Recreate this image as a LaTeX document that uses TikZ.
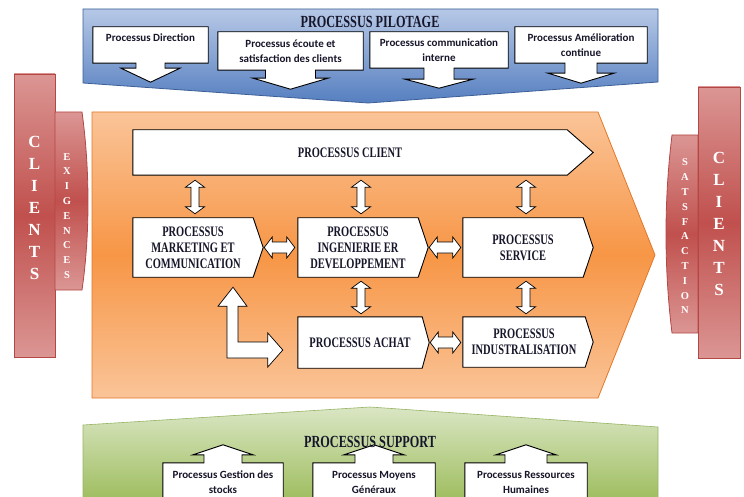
\documentclass[tikz,border=0pt]{standalone}
\usepackage{fontspec}
\setmainfont{Liberation Serif}
\newfontfamily\titfont[FakeStretch=0.72]{Liberation Serif}
\newfontfamily\smallfont{Carlito}
\usetikzlibrary{calc}
\pgfdeclarelayer{bgl}
\pgfdeclarelayer{midl}
\pgfsetlayers{bgl,midl,main}
\definecolor{txtc}{HTML}{16162A}
\definecolor{bluet}{RGB}{182,200,230}
\definecolor{blueb}{RGB}{86,127,192}
\definecolor{blued}{RGB}{60,95,150}
\definecolor{orat}{RGB}{250,196,152}
\definecolor{oram}{RGB}{247,150,70}
\definecolor{orab}{RGB}{250,196,152}
\definecolor{orad}{RGB}{226,120,40}
\definecolor{grt}{RGB}{218,230,196}
\definecolor{grb}{RGB}{155,187,89}
\definecolor{grd}{RGB}{150,180,100}
\definecolor{redt}{RGB}{219,150,148}
\definecolor{redm}{RGB}{192,80,77}
\definecolor{redd}{RGB}{180,70,68}
\tikzset{
  sertext/.style={font={\titfont\bfseries\fontsize{14.5}{16}\selectfont}, text=txtc, align=center, inner sep=0pt},
  bandtitle/.style={font={\titfont\bfseries\fontsize{17}{19}\selectfont}, text=txtc, inner sep=0pt},
  smalltext/.style={font={\smallfont\bfseries\fontsize{11}{15}\selectfont}, text=txtc, align=center, inner sep=0pt},
  biglet/.style={font={\bfseries\fontsize{17}{22}\selectfont}, text=white, align=center, inner sep=0pt},
  smlet/.style={font={\bfseries\fontsize{10.5}{14.8}\selectfont}, text=white, align=center, inner sep=0pt},
  whitebox/.style={fill=white, draw=black, line width=0.9pt, line join=miter},
  blockarrow/.style={fill=white, draw=black, line width=0.7pt, line join=miter},
  redbar/.style={top color=redt, bottom color=redt, middle color=redm, draw=redd, line width=0.8pt},
}
\newcommand{\chev}[2]{\draw[whitebox] (#1.north west) -- (#1.north east) -- ($(#1.east)+(#2,0)$) -- (#1.south east) -- (#1.south west) -- cycle;}
\newcommand{\downcall}[5]{\draw[whitebox] let \p1=(#1.south) in (#1.north west) -- (#1.north east) -- (#1.south east) -- (\x1+#2pt,\y1) -- (\x1+#2pt,\y1-#4pt) -- (\x1+#3pt,\y1-#4pt) -- (\x1,\y1-#4pt-#5pt) -- (\x1-#3pt,\y1-#4pt) -- (\x1-#2pt,\y1-#4pt) -- (\x1-#2pt,\y1) -- (#1.south west) -- cycle;}
\newcommand{\upcall}[5]{\draw[whitebox] let \p1=(#1.north) in (#1.south west) -- (#1.north west) -- (\x1-#2pt,\y1) -- (\x1-#2pt,\y1+#4pt) -- (\x1-#3pt,\y1+#4pt) -- (\x1,\y1+#4pt+#5pt) -- (\x1+#3pt,\y1+#4pt) -- (\x1+#2pt,\y1+#4pt) -- (\x1+#2pt,\y1) -- (#1.north east) -- (#1.south east) -- cycle;}
\newcommand{\vdarr}[2]{\draw[blockarrow] let \p1=#1, \p2=#2 in (\x1,\y1) -- (\x1+9.5pt,\y1-7pt) -- (\x1+4pt,\y1-7pt) -- (\x1+4pt,\y2+7pt) -- (\x1+9.5pt,\y2+7pt) -- (\x1,\y2) -- (\x1-9.5pt,\y2+7pt) -- (\x1-4pt,\y2+7pt) -- (\x1-4pt,\y1-7pt) -- (\x1-9.5pt,\y1-7pt) -- cycle;}
\newcommand{\hdarr}[2]{\draw[blockarrow] let \p1=#1, \p2=#2 in (\x1,\y1) -- (\x1+8pt,\y1+10.5pt) -- (\x1+8pt,\y1+5.5pt) -- (\x2-8pt,\y1+5.5pt) -- (\x2-8pt,\y1+10.5pt) -- (\x2,\y1) -- (\x2-8pt,\y1-10.5pt) -- (\x2-8pt,\y1-5.5pt) -- (\x1+8pt,\y1-5.5pt) -- (\x1+8pt,\y1-10.5pt) -- cycle;}
\begin{document}
\begin{tikzpicture}[x=1pt,y=-1pt]
\useasboundingbox (0,0) rectangle (744,497);
% ---------- backgrounds ----------
\begin{pgfonlayer}{bgl}
\shade[top color=bluet, bottom color=blueb, draw=blued, line width=0.8pt]
  (83,9) -- (658,9) -- (658,82) -- (368,103) -- (83,83) -- cycle;
\shade[top color=orat, bottom color=orab, middle color=oram, draw=orad, line width=0.8pt]
  (92,112) -- (598,112) -- (655,255) -- (598,398) -- (92,398) -- cycle;
\shade[top color=grt, bottom color=grb, draw=grd, line width=0.6pt]
  (83,425) -- (370,407) -- (658,427) -- (658,505) -- (83,505) -- cycle;
\shade[redbar] (14,74) rectangle (55,357);
\shade[redbar] (55,112) -- (82,112) .. controls (90,170) and (90,235) .. (82,290) -- (55,290) -- cycle;
\shade[redbar] (698,135) -- (672,135) .. controls (664,200) and (664,268) .. (672,333) -- (698,333) -- cycle;
\shade[redbar] (698,87) rectangle (740,358);
\end{pgfonlayer}
% ---------- titles ----------
\node[bandtitle] (pilt) at (370,22) {PROCESSUS PILOTAGE};
\node[bandtitle] (supt) at (370,442) {PROCESSUS SUPPORT};
% ---------- pilotage boxes ----------
\node[smalltext, minimum width=115pt, minimum height=36pt] (p1) at (150.5,45) {Processus Direction\\\phantom{x}};
\node[smalltext, minimum width=145pt, minimum height=38pt] (p2) at (290.5,51) {Processus écoute et\\satisfaction des clients};
\node[smalltext, minimum width=138pt, minimum height=36pt] (p3) at (439,50) {Processus communication\\interne};
\node[smalltext, minimum width=132pt, minimum height=36pt] (p4) at (581,45) {Processus Amélioration\\continue};
% ---------- support boxes ----------
\node[smalltext, minimum width=120pt, minimum height=39pt] (s1) at (223,482.5) {Processus Gestion des\\stocks};
\node[smalltext, minimum width=122pt, minimum height=39pt] (s2) at (374,482.5) {Processus Moyens\\Généraux};
\node[smalltext, minimum width=122pt, minimum height=39pt] (s3) at (526,482.5) {Processus Ressources\\Humaines};
% ---------- process boxes ----------
\node[sertext, minimum width=434pt, minimum height=45pt] (client) at (350,152.5) {PROCESSUS CLIENT};
\node[sertext, minimum width=120pt, minimum height=59pt] (mk) at (193,247.5) {PROCESSUS\\MARKETING ET\\COMMUNICATION};
\node[sertext, minimum width=120pt, minimum height=59pt] (ing) at (358,247.5) {PROCESSUS\\INGENIERIE ER\\DEVELOPPEMENT};
\node[sertext, minimum width=120pt, minimum height=59pt] (srv) at (523,247.5) {PROCESSUS\\SERVICE};
\node[sertext, minimum width=124pt, minimum height=51pt] (ach) at (360,342.5) {PROCESSUS ACHAT};
\node[sertext, minimum width=122pt, minimum height=50pt] (ind) at (524,342) {PROCESSUS\\INDUSTRALISATION};
% ---------- side letters ----------
\node[biglet] (cll) at (34.5,208) {C\\L\\I\\E\\N\\T\\S};
\node[smlet] (exi) at (67,216) {E\\X\\I\\G\\E\\N\\C\\E\\S};
\node[smlet] (sat) at (685,236.5) {S\\A\\T\\S\\F\\A\\C\\T\\I\\O\\N};
\node[biglet] (clr) at (719,224) {C\\L\\I\\E\\N\\T\\S};
% ---------- L arrow coordinates ----------
\coordinate (Lup) at ($(mk.south)+(40,10)$);
\coordinate (Lright) at ($(ach.west)+(-15,7.5)$);
% ---------- white shapes ----------
\begin{pgfonlayer}{midl}
\downcall{p1}{14.5}{29.5}{5}{14}
\downcall{p2}{25}{37.5}{8}{11}
\downcall{p3}{15}{34}{11}{9}
\downcall{p4}{16}{33}{10}{10}
\upcall{s1}{19}{30}{8}{10}
\upcall{s2}{19}{30}{8}{10}
\upcall{s3}{21}{30}{8}{10}
\chev{client}{26}
\chev{mk}{10}
\chev{ing}{10}
\chev{srv}{10}
\chev{ach}{7}
\chev{ind}{8}
\vdarr{($(mk.north|-client.south)+(2,5)$)}{($(mk.north)+(2,-4)$)}
\vdarr{($(ing.north|-client.south)+(3,5)$)}{($(ing.north)+(3,-4)$)}
\vdarr{($(srv.north|-client.south)+(3,5)$)}{($(srv.north)+(3,-4)$)}
\vdarr{($(ing.south)+(3,4)$)}{($(ach.north)+(1,-3)$)}
\vdarr{($(srv.south)+(3,4)$)}{($(ind.north)+(2,-3)$)}
\hdarr{($(mk.east)+(11,0)$)}{($(ing.west)+(-3,0)$)}
\hdarr{($(ing.east)+(11,0)$)}{($(srv.west)+(-2,0)$)}
\hdarr{($(ach.east)+(8,0)$)}{($(ind.west)+(-2,0)$)}
\draw[blockarrow] let \p1=(Lup), \p2=(Lright) in
  (\x1,\y1) -- (\x1+14pt,\y1-19pt) -- (\x1+5pt,\y1-19pt) -- (\x1+5pt,\y2+8pt)
  -- (\x2-15pt,\y2+8pt) -- (\x2-15pt,\y2+17pt) -- (\x2,\y2) -- (\x2-15pt,\y2-17pt)
  -- (\x2-15pt,\y2-8pt) -- (\x1-6pt,\y2-8pt) -- (\x1-6pt,\y1-19pt) -- (\x1-15pt,\y1-19pt) -- cycle;
\end{pgfonlayer}
\end{tikzpicture}
\end{document}
